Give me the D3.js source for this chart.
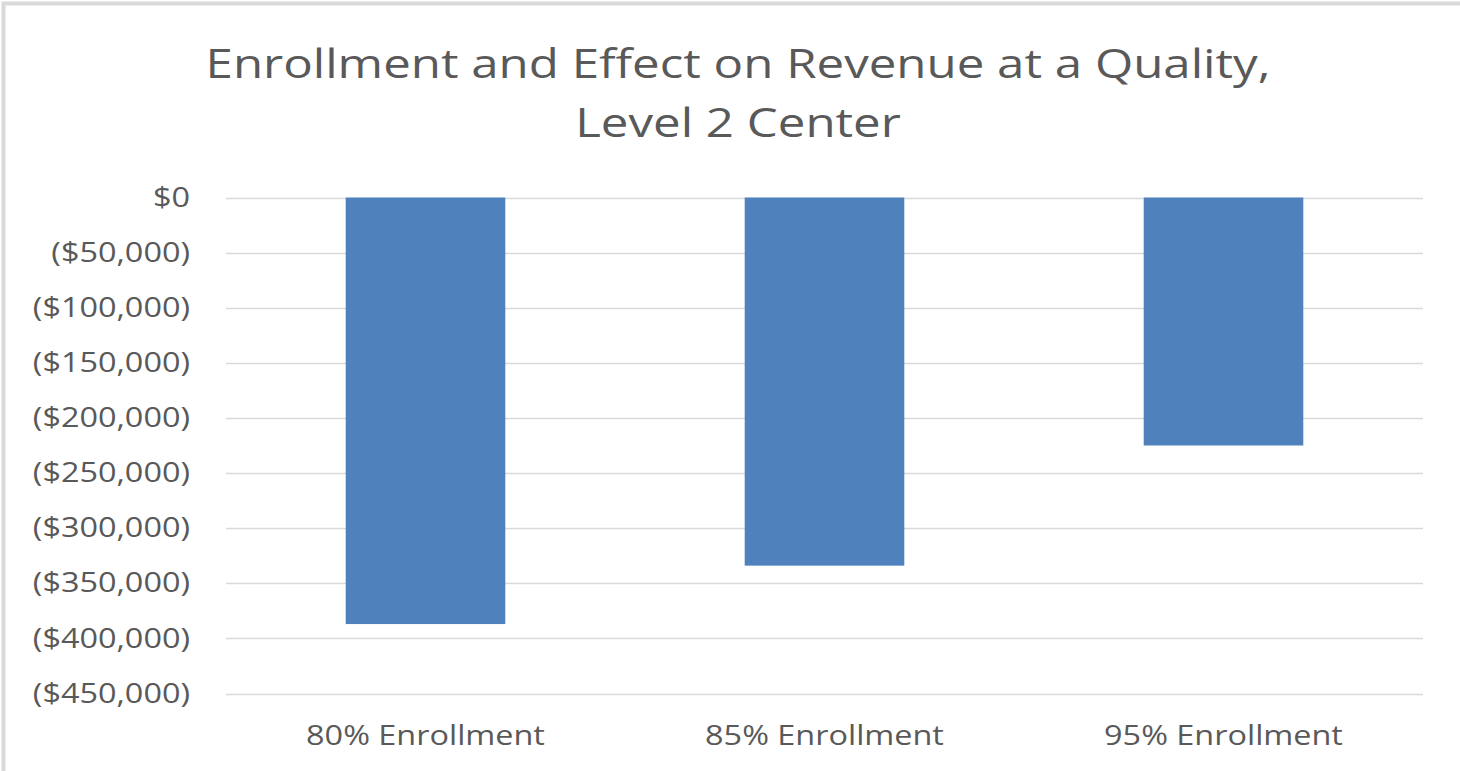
<!DOCTYPE html>
<html>
<head>
<meta charset="utf-8">
<script src="https://cdn.jsdelivr.net/npm/d3@7"></script>
<style>
    body { margin: 0; background: #fff; }
    svg { display: block; }
    text { font-family: "Open Sans", "Noto Sans", sans-serif; fill: #595959; }
</style>
</head>
<body>
<div id="chartContainer"></div>
<script>
const categories = ['80% Enrollment', '85% Enrollment', '95% Enrollment'];
const revenueEffect = [-387000, -334000, -225000];
const yTicks = [0, -50000, -100000, -150000, -200000, -250000, -300000, -350000, -400000, -450000];
const titleLines = ['Enrollment and Effect on Revenue at a Quality,', 'Level 2 Center'];

const width = 1460;
const height = 771;
const plot = { left: 226, right: 1423, top: 197.5, bottom: 693.5 };
// the original glyphs are wider than Open Sans, stretch text a bit
const textStretch = 1.2;

const svg = d3.select('#chartContainer')
    .append('svg')
    .attr('width', width)
    .attr('height', height);

// outer frame (only top/left visible in the crop)
svg.append('rect')
    .attr('x', 3.5).attr('y', 3.5)
    .attr('width', width + 20).attr('height', height + 20)
    .attr('fill', '#fff')
    .attr('stroke', '#d9d9d9')
    .attr('stroke-width', 4);

const x = d3.scaleBand()
    .domain(categories)
    .range([plot.left, plot.right])
    .paddingInner(0.6)
    .paddingOuter(0.3);

const y = d3.scaleLinear()
    .domain([0, -450000])
    .range([plot.top, plot.bottom]);

const fmt = v => v === 0 ? '$0' : '($' + d3.format(',')(Math.abs(v)) + ')';

// gridlines
svg.append('g')
    .selectAll('line')
    .data(yTicks)
    .enter().append('line')
    .attr('x1', plot.left)
    .attr('x2', plot.right)
    .attr('y1', d => Math.round(y(d)) + 0.5)
    .attr('y2', d => Math.round(y(d)) + 0.5)
    .attr('stroke', '#d9d9d9')
    .attr('stroke-width', 1.5);

// y axis labels
const yAxis = svg.append('g')
    .attr('transform', `translate(${plot.left},0)`)
    .call(d3.axisLeft(y).tickValues(yTicks).tickFormat(fmt).tickSize(0).tickPadding(36));
yAxis.select('.domain').remove();
yAxis.selectAll('text')
    .attr('fill', '#595959')
    .style('font-size', '27px')
    .style('font-family', '"Open Sans", sans-serif');

// bars
svg.selectAll('.bar')
    .data(categories)
    .enter().append('rect')
    .attr('class', 'bar')
    .attr('x', d => x(d))
    .attr('y', y(0))
    .attr('width', x.bandwidth())
    .attr('height', (d, i) => y(revenueEffect[i]) - y(0))
    .attr('fill', '#4f81bd');

// x axis labels
const xAxis = svg.append('g')
    .attr('transform', `translate(0,${plot.bottom})`)
    .call(d3.axisBottom(x).tickSize(0).tickPadding(32));
xAxis.select('.domain').remove();
xAxis.selectAll('text')
    .attr('fill', '#595959')
    .style('font-size', '27px')
    .style('font-family', '"Open Sans", sans-serif');

// title
svg.append('g')
    .selectAll('text')
    .data(titleLines)
    .enter().append('text')
    .attr('x', 738)
    .attr('y', (d, i) => 78 + i * 59)
    .attr('text-anchor', 'middle')
    .style('font-size', '41px')
    .text(d => d);

svg.selectAll('text').each(function() {
    const len = this.getComputedTextLength();
    d3.select(this)
      .attr('textLength', len * textStretch)
      .attr('lengthAdjust', 'spacingAndGlyphs');
});
</script>
</body>
</html>
